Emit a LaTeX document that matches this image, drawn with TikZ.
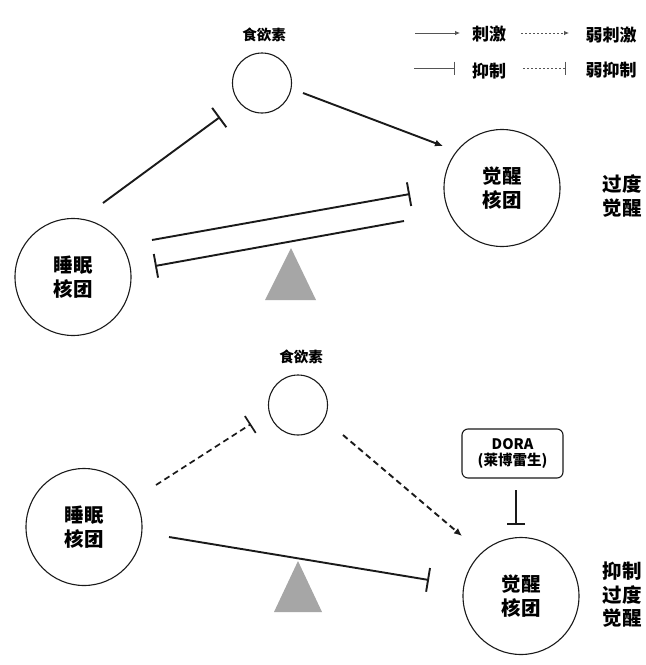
\documentclass[tikz,border=0pt]{standalone}
\usepackage{fontspec}
\newfontfamily\cjk{Noto Sans CJK SC}
\usetikzlibrary{arrows.meta,shapes.geometric}
\definecolor{tri}{HTML}{A6A6A6}
\definecolor{ink}{HTML}{1A1A1A}
\definecolor{leg}{HTML}{555555}
\begin{document}
\begin{tikzpicture}[x=1pt,y=-1pt,
  nucleus/.style={ellipse,draw=ink,line width=1.1pt,minimum width=116pt,minimum height=117pt,inner sep=0pt,align=center,font=\cjk\bfseries\fontsize{19.5}{24.5}\selectfont},
  orexin/.style={ellipse,draw=ink,line width=1.1pt,minimum width=59pt,minimum height=60pt,inner sep=0pt},
  lbl/.style={font=\cjk\bfseries\fontsize{14.5}{16}\selectfont,inner sep=0pt},
  legtext/.style={font=\cjk\bfseries\fontsize{17}{20}\selectfont,inner sep=0pt},
  side/.style={font=\cjk\bfseries\fontsize{19.5}{23.5}\selectfont,align=center,inner sep=0pt},
  stim/.style={draw=ink,line width=1.9pt,-{Latex[length=8pt,width=7pt]}},
  inh/.style={draw=ink,line width=1.9pt,-{Bar[width=24pt,line width=1.9pt]}},
  wstim/.style={stim,dash pattern=on 6pt off 4pt},
  winh/.style={draw=ink,line width=1.7pt,dash pattern=on 6pt off 4pt,-{Bar[width=20pt,line width=1.7pt]}},
  legstim/.style={draw=leg,line width=0.8pt,-{Latex[length=5pt,width=4.5pt]}},
  leginh/.style={draw=leg,line width=0.8pt,-{Bar[width=13pt,line width=0.8pt]}},
  legdot/.style={dash pattern=on 2pt off 2pt},
  dorabox/.style={draw=ink,line width=1.1pt,rounded corners=6pt,minimum width=101pt,minimum height=49pt,align=center,inner sep=0pt,font=\cjk\bfseries\fontsize{14.5}{16}\selectfont}
]
\useasboundingbox (0,0) rectangle (646,665);
\fill[white] (0,0) rectangle (646,665);

% ---------- legend ----------
\coordinate (l1a) at (415,33);  \coordinate (l1b) at (460,33);
\coordinate (l2a) at (521,33);  \coordinate (l2b) at (569,33);
\coordinate (l3a) at (414,68);  \coordinate (l3b) at (455,68);
\coordinate (l4a) at (523,68);  \coordinate (l4b) at (566,68);
\draw[legstim] (l1a) -- (l1b);
\draw[legstim,legdot] (l2a) -- (l2b);
\draw[leginh] (l3a) -- (l3b);
\draw[leginh,legdot] (l4a) -- (l4b);
\node[legtext] (t1) at (489,34) {刺激};
\node[legtext] (t2) at (611,35) {弱刺激};
\node[legtext] (t3) at (489,71) {抑制};
\node[legtext] (t4) at (611,70) {弱抑制};

% ---------- top panel ----------
\node[lbl] (oxlA) at (264,35) {食欲素};
\node[orexin] (oxA) at (262,83) {};
\node[nucleus] (wakeA) at (502,188) {觉醒\\核团};
\node[nucleus] (sleepA) at (73,277) {睡眠\\核团};
\node[side] (sideA) at (622,196) {过度\\觉醒};
\fill[tri] (291,248) -- (316,300) -- (265,300) -- cycle;

\coordinate (a1s) at (103,203); \coordinate (a1e) at (220,117);
\coordinate (a2s) at (303,93);  \coordinate (a2e) at (443,146);
\coordinate (a3s) at (152,240); \coordinate (a3e) at (410,194);
\coordinate (a4s) at (404,221); \coordinate (a4e) at (155,266);
\draw[inh] (a1s) -- (a1e);
\draw[stim] (a2s) -- (a2e);
\draw[inh] (a3s) -- (a3e);
\draw[inh] (a4s) -- (a4e);

% ---------- bottom panel ----------
\node[lbl] (oxlB) at (301,357) {食欲素};
\node[orexin] (oxB) at (298,405) {};
\node[nucleus] (sleepB) at (84,527) {睡眠\\核团};
\node[nucleus] (wakeB) at (521,596) {觉醒\\核团};
\node[side] (sideB) at (622,595) {抑制\\过度\\觉醒};
\node[dorabox] (dora) at (512.5,453.5) {DORA\\(莱博雷生)};
\fill[tri] (298,561) -- (322,612) -- (274,612) -- cycle;

\coordinate (b1s) at (156,485); \coordinate (b1e) at (251,424);
\coordinate (b2s) at (343,435); \coordinate (b2e) at (462,536);
\coordinate (b3s) at (169,537); \coordinate (b3e) at (429,580);
\coordinate (b4s) at (516,490); \coordinate (b4e) at (516,525);
\draw[winh] (b1s) -- (b1e);
\draw[wstim] (b2s) -- (b2e);
\draw[inh] (b3s) -- (b3e);
\draw[inh,-{Bar[width=18pt,line width=1.9pt]}] (b4s) -- (b4e);
\end{tikzpicture}
\end{document}
